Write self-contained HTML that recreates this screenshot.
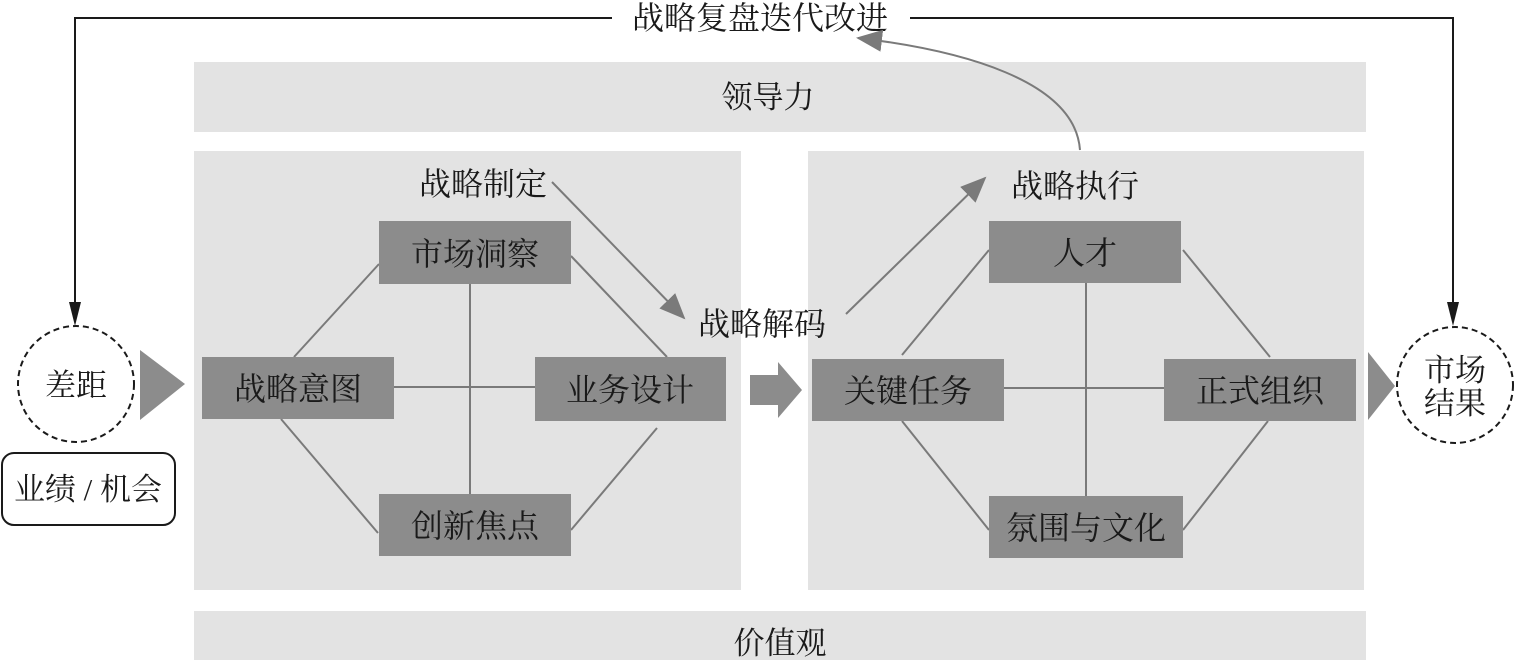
<!DOCTYPE html>
<html><head><meta charset="utf-8"><style>
html,body{margin:0;padding:0;background:#fff;}
svg{display:block;}
text{font-family:"Liberation Serif","Noto Serif CJK SC","Noto Sans CJK SC",serif;fill:#1a1a1a;}
</style></head><body>
<svg width="1514" height="660" viewBox="0 0 1514 660" xmlns="http://www.w3.org/2000/svg">
<defs>
<marker id="ag" markerWidth="26" markerHeight="22" refX="24" refY="11" orient="auto" markerUnits="userSpaceOnUse"><path d="M0,0 L26,11 L0,22z" fill="#7a7a7a"/></marker>
</defs>
<rect x="194" y="62" width="1172" height="70" fill="#e3e3e3"/>
<text x="768" y="108" font-size="31" text-anchor="middle">领导力</text>
<rect x="194" y="151" width="547" height="439" fill="#e3e3e3"/>
<rect x="808" y="151" width="556" height="439" fill="#e3e3e3"/>
<rect x="194" y="611" width="1172" height="49" fill="#e3e3e3"/>
<text x="780" y="654" font-size="31" text-anchor="middle">价值观</text>

<path d="M612,18 H75 V310" fill="none" stroke="#1a1a1a" stroke-width="2"/>
<path d="M910,18 H1453 V310" fill="none" stroke="#1a1a1a" stroke-width="2"/>
<text x="760" y="29" font-size="32" text-anchor="middle">战略复盘迭代改进</text>
<polygon points="69,302 81,302 75,326" fill="#1a1a1a"/>
<polygon points="1447,302 1459,302 1453,326" fill="#1a1a1a"/>

<circle cx="76" cy="384" r="58" fill="none" stroke="#1a1a1a" stroke-width="2" stroke-dasharray="6,4"/>
<text x="76" y="396" font-size="31" text-anchor="middle">差距</text>
<polygon points="140,350 185,384 140,420" fill="#8c8c8c"/>
<rect x="2" y="453" width="173" height="72" rx="12" fill="#fff" stroke="#1a1a1a" stroke-width="2"/>
<text x="88" y="500" font-size="31" text-anchor="middle">业绩 / 机会</text>

<g stroke="#7a7a7a" stroke-width="2">
<line x1="294" y1="357" x2="379" y2="264"/>
<line x1="470" y1="284" x2="470" y2="494"/>
<line x1="394" y1="387" x2="535" y2="387"/>
<line x1="571" y1="256" x2="667" y2="357"/>
<line x1="281" y1="419" x2="378" y2="533"/>
<line x1="657" y1="428" x2="571" y2="530"/>
<line x1="902" y1="355" x2="989" y2="250"/>
<line x1="1086" y1="283" x2="1086" y2="496"/>
<line x1="1004" y1="388" x2="1164" y2="388"/>
<line x1="1183" y1="250" x2="1270" y2="357"/>
<line x1="902" y1="421" x2="989" y2="530"/>
<line x1="1268" y1="421" x2="1183" y2="530"/>
</g>
<g fill="#8c8c8c">
<rect x="202" y="357" width="192" height="62"/>
<rect x="379" y="221" width="192" height="63"/>
<rect x="535" y="357" width="191" height="64"/>
<rect x="379" y="494" width="192" height="62"/>
<rect x="812" y="359" width="192" height="62"/>
<rect x="989" y="221" width="192" height="62"/>
<rect x="1164" y="359" width="192" height="62"/>
<rect x="989" y="496" width="194" height="62"/>
</g>
<g font-size="32" text-anchor="middle">
<text x="298" y="400">战略意图</text>
<text x="475" y="265">市场洞察</text>
<text x="630" y="401">业务设计</text>
<text x="475" y="537">创新焦点</text>
<text x="908" y="402">关键任务</text>
<text x="1085" y="264">人才</text>
<text x="1260" y="402">正式组织</text>
<text x="1086" y="539">氛围与文化</text>
<text x="483" y="195">战略制定</text>
<text x="762" y="335">战略解码</text>
<text x="1075" y="197">战略执行</text>
</g>
<g stroke="#7a7a7a" stroke-width="2" fill="none">
<line x1="552" y1="182" x2="684" y2="318" marker-end="url(#ag)"/>
<line x1="846" y1="314" x2="985" y2="178" marker-end="url(#ag)"/>
<path d="M1080,150 C1075,80 960,50 858,38" marker-end="url(#ag)"/>
</g>
<polygon points="750,375 778,375 778,362 802,390 778,418 778,405 750,405" fill="#8c8c8c"/>

<polygon points="1368,352 1395,386 1368,420" fill="#8c8c8c"/>
<circle cx="1455" cy="385" r="58" fill="none" stroke="#1a1a1a" stroke-width="2" stroke-dasharray="6,4"/>
<text x="1455" y="381" font-size="31" text-anchor="middle">市场</text>
<text x="1455" y="414" font-size="31" text-anchor="middle">结果</text>
</svg>
</body></html>
